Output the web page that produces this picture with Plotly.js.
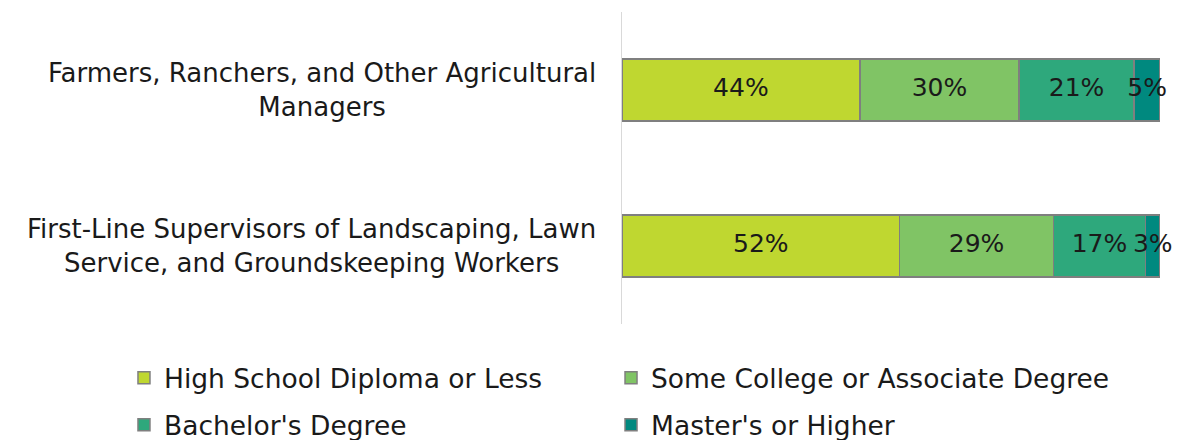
<!DOCTYPE html>
<html>
<head>
<meta charset="utf-8">
<script src="https://cdn.plot.ly/plotly-3.0.1.min.js"></script>
<style>html,body{margin:0;padding:0;background:#fff;}#chart{width:1184px;height:440px;}</style>
</head>
<body>
<div id="chart"></div>
<script>
var categories = [
  "Farmers, Ranchers, and Other Agricultural<br>Managers",
  "First-Line Supervisors of Landscaping, Lawn<br>Service, and Groundskeeping Workers"
];
var seriesNames = ["High School Diploma or Less", "Some College or Associate Degree", "Bachelor's Degree", "Master's or Higher"];
var highSchool = [44.2, 51.6];
var someCollege = [29.6, 28.6];
var bachelors = [21.4, 17.1];
var masters = [4.8, 2.7];
var colors = ["#BFD730", "#80C465", "#2EA87C", "#00897F"];
var seriesValues = [highSchool, someCollege, bachelors, masters];
var legendIds = ["legend", "legend2", "legend3", "legend4"];

var FONT = "DejaVu Sans, sans-serif";
var traces = seriesValues.map(function (vals, i) {
  return {
    type: "bar",
    orientation: "h",
    name: seriesNames[i],
    y: categories,
    x: vals,
    marker: {color: colors[i], line: {color: "#7f7f7f", width: 1.5}},
    legend: legendIds[i],
    hoverinfo: "skip"
  };
});

// value labels, centred in each segment (positions derived from the data)
var cum = categories.map(function () { return 0; });
seriesValues.forEach(function (vals) {
  var mids = vals.map(function (v, j) { return cum[j] + v / 2; });
  cum = cum.map(function (c, j) { return c + vals[j]; });
  traces.push({
    type: "scatter", mode: "text", x: mids, y: categories,
    text: vals.map(function (v) { return Math.round(v) + "%"; }),
    textposition: "middle center", cliponaxis: false,
    textfont: {family: FONT, size: 25, color: "#1a1a1a"},
    showlegend: false, hoverinfo: "skip"
  });
});

var annotations = categories.map(function (c) {
  return {
    xref: "paper", yref: "y", x: 0, y: c, xanchor: "right", yanchor: "middle",
    xshift: -24, align: "center", showarrow: false, text: c,
    font: {family: FONT, size: 26, color: "#1a1a1a"}
  };
});

function legendAt(x, y) {
  return {
    x: x, y: y, xanchor: "left", yanchor: "middle", orientation: "v",
    font: {family: FONT, size: 26.5, color: "#1a1a1a"},
    bgcolor: "rgba(0,0,0,0)", itemclick: false, itemdoubleclick: false
  };
}

var layout = {
  width: 1184, height: 440,
  margin: {l: 622, r: 24, t: 12, b: 116, autoexpand: false},
  barmode: "stack",
  bargap: 0.6,
  showlegend: true,
  paper_bgcolor: "#fff", plot_bgcolor: "#fff",
  xaxis: {range: [0, 100], visible: false, fixedrange: true},
  yaxis: {
    type: "category", autorange: "reversed", showticklabels: false,
    showline: true, linecolor: "#d9d9d9", linewidth: 1.5,
    showgrid: false, zeroline: false, ticks: "", fixedrange: true
  },
  legend: legendAt(-0.9257, -0.173),
  legend2: legendAt(-0.0204, -0.173),
  legend3: legendAt(-0.9257, -0.324),
  legend4: legendAt(-0.0204, -0.324),
  annotations: annotations
};

Plotly.newPlot("chart", traces, layout, {displayModeBar: false, staticPlot: true});
</script>
</body>
</html>
